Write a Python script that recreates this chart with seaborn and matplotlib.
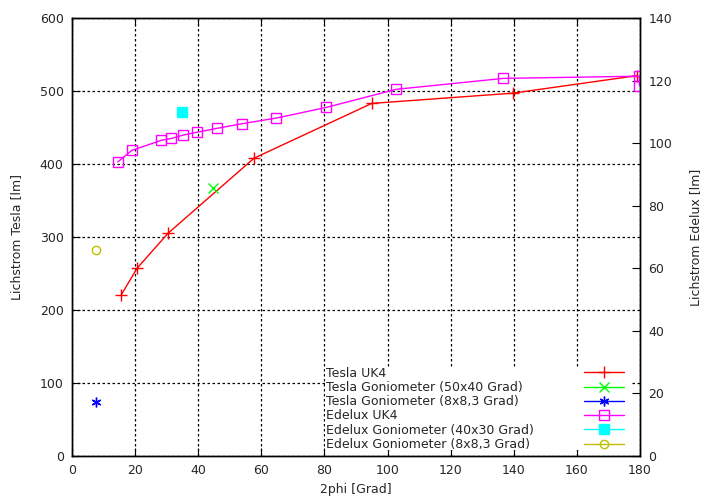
import matplotlib
matplotlib.use("Agg")
import matplotlib.pyplot as plt
import seaborn as sns
import pandas as pd
from matplotlib.lines import Line2D
from matplotlib.patches import Rectangle

# Tesla UK4 (left axis)
tesla_x = [15.5, 20.6, 30.4, 57.7, 95.0, 139.6, 179.0]
tesla_y = [220, 257, 305, 408, 483, 497, 521]

# Tesla Goniometer single points
tesla_gon_50_x = [44.8]
tesla_gon_50_y = [367]
tesla_gon_8_x = [7.6]
tesla_gon_8_y = [74]

# Edelux UK4 (right axis)
edelux_x = [14.5, 19.0, 28.3, 31.5, 35.3, 39.7, 45.8, 53.8, 64.7, 80.5, 102.7, 136.7, 179.8, 179.8]
edelux_y = [94.0, 97.7, 100.9, 101.5, 102.6, 103.5, 104.7, 106.2, 108.0, 111.4, 117.2, 120.7, 121.4, 118.3]

# Edelux Goniometer single points
edelux_gon_40_x = [34.9]
edelux_gon_40_y = [110]
edelux_gon_8_x = [7.6]
edelux_gon_8_y = [65.8]

labels = ["Tesla UK4", "Tesla Goniometer (50x40 Grad)", "Tesla Goniometer (8x8,3 Grad)",
          "Edelux UK4", "Edelux Goniometer (40x30 Grad)", "Edelux Goniometer (8x8,3 Grad)"]

RED, GREEN, BLUE = "#ff0000", "#00ff00", "#0000ff"
MAGENTA, CYAN, OLIVE = "#ff00ff", "#00ffff", "#c0c000"
ASTER = (6, 2, 0)

sns.set_style("white")
plt.rcParams["font.family"] = ["DejaVu Sans"]
plt.rcParams["font.size"] = 9

fig = plt.figure(figsize=(7.13, 5.0), dpi=100)
ax = fig.add_axes([72 / 713, 44 / 500, 568 / 713, 438 / 500])
ax2 = ax.twinx()

# style per series: (color, marker, size, filled)
styles = [
    (RED, "+", 8, False),
    (GREEN, "x", 7, False),
    (BLUE, ASTER, 7, False),
    (MAGENTA, "s", 7, False),
    (CYAN, "s", 7, True),
    (OLIVE, "o", 6, False),
]


def mk(i):
    c, m, s, filled = styles[i]
    return dict(color=c, marker=m, markersize=s, markeredgewidth=1,
                markeredgecolor=c, markerfacecolor=c if filled else "none")


df_t = pd.DataFrame({"x": tesla_x, "y": tesla_y})
sns.lineplot(data=df_t, x="x", y="y", ax=ax, lw=1, estimator=None, sort=False, **mk(0))
sns.lineplot(x=tesla_gon_50_x, y=tesla_gon_50_y, ax=ax, estimator=None, linestyle="none", **mk(1))
sns.lineplot(x=tesla_gon_8_x, y=tesla_gon_8_y, ax=ax, estimator=None, linestyle="none", **mk(2))

df_e = pd.DataFrame({"x": edelux_x, "y": edelux_y})
sns.lineplot(data=df_e, x="x", y="y", ax=ax2, lw=1, estimator=None, sort=False, **mk(3))
sns.lineplot(x=edelux_gon_40_x, y=edelux_gon_40_y, ax=ax2, estimator=None, linestyle="none", **mk(4))
sns.lineplot(x=edelux_gon_8_x, y=edelux_gon_8_y, ax=ax2, estimator=None, linestyle="none", **mk(5))

ax.set_xlim(0, 180)
ax.set_ylim(0, 600)
ax2.set_ylim(0, 140)
ax.set_xticks(range(0, 181, 20))
ax.set_yticks(range(0, 601, 100))
ax2.set_yticks(range(0, 141, 20))

ax.grid(True, color="black", linestyle=(0, (2, 2)), linewidth=0.9)
ax2.grid(False)

for a in (ax, ax2):
    for s in a.spines.values():
        s.set_color("black")
        s.set_linewidth(1)
ax.tick_params(axis="x", direction="in", length=6, top=True, bottom=True, labelsize=9, pad=6, color="black")
ax.tick_params(axis="y", direction="in", length=6, left=True, right=False, labelsize=9, pad=6, color="black")
ax2.tick_params(axis="y", direction="in", length=6, right=True, labelsize=9, pad=6, color="black")

ax.set_xlabel("2phi [Grad]", fontsize=9, labelpad=4)
ax.set_ylabel("Lichstrom Tesla [lm]", fontsize=9, labelpad=12)
ax2.set_ylabel("Lichstrom Edelux [lm]", fontsize=9, labelpad=12)

# white key box hiding the grid
ax2.add_patch(Rectangle((0.445, 0.014), 0.54, 0.19, transform=ax2.transAxes,
                        facecolor="white", edgecolor="none", zorder=4))

common = dict(frameon=False, fontsize=9, labelspacing=0.1, borderpad=0.3, borderaxespad=0.0)

# key texts, left aligned
blank = [Line2D([], [], linestyle="none") for _ in labels]
leg_txt = ax2.legend(blank, labels, loc="lower left", bbox_to_anchor=(0.44, 0.003),
                     handlelength=0, handletextpad=0, **common)
ax2.add_artist(leg_txt)

# key samples on the right
handles = [Line2D([], [], lw=1, **mk(i)) for i in range(len(labels))]
ax2.legend(handles, [""] * len(labels), loc="lower right", bbox_to_anchor=(0.978, 0.003),
           handlelength=3.2, handletextpad=0, **common)

fig.savefig("out.png", dpi=100)
